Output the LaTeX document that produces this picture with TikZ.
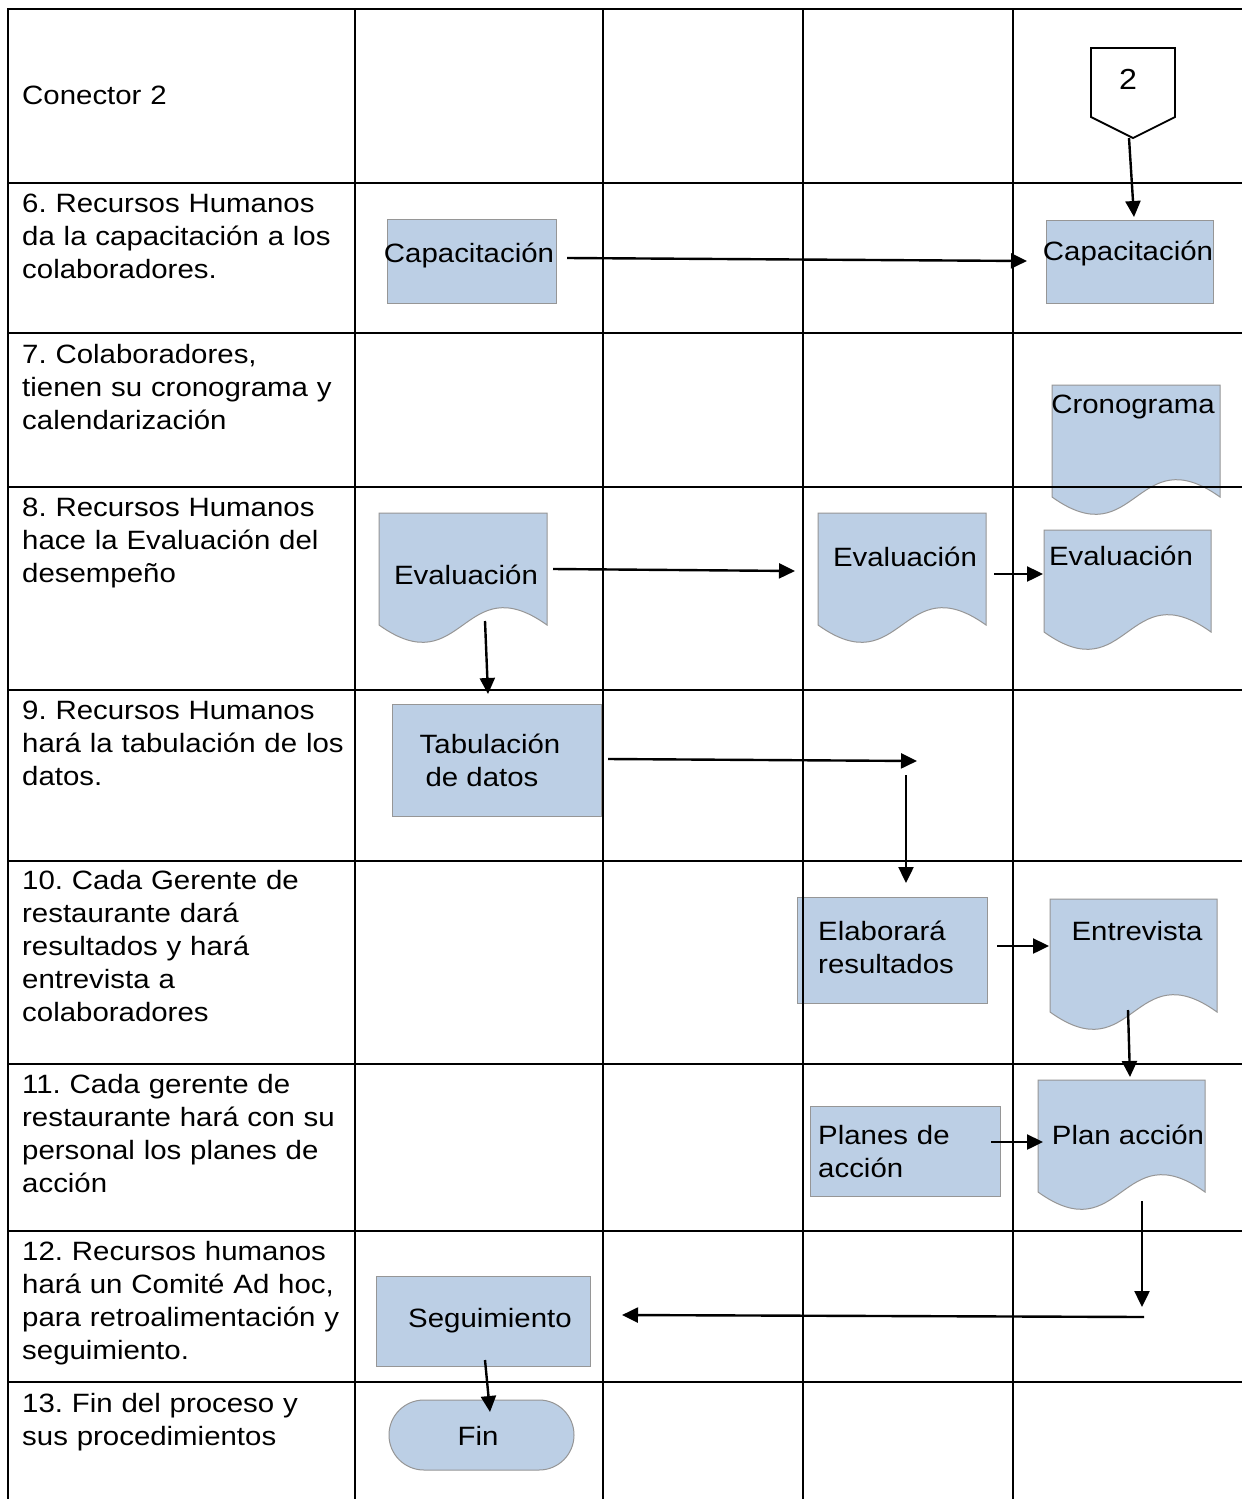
\documentclass[tikz,border=0pt]{standalone}
\usepackage{fontspec}
\setmainfont{Liberation Sans}[FakeStretch=1.11]
\usetikzlibrary{arrows.meta,calc}
\definecolor{boxblue}{RGB}{188,207,229}
\definecolor{boxgray}{RGB}{150,150,150}
\frenchspacing
\tikzset{
  tbl/.style={line width=2.8pt, line cap=rect, black},
  arr/.style={line width=2.4pt, black, -{Triangle[length=16pt,width=15pt]}},
  bx/.style={rectangle, draw=boxgray, line width=1pt, fill=boxblue, inner sep=0pt, outer sep=0pt},
  frame/.style={rectangle, draw=none, inner sep=0pt, outer sep=0pt},
  docstyle/.style={draw=boxgray, line width=1pt, fill=boxblue},
  lbl/.style={inner sep=0pt, anchor=base, font=\fontsize{26.5}{33}\selectfont},
  rowtxt/.style={inner sep=0pt, anchor=base west, align=left, text width=400pt, font=\fontsize{26.5}{33}\selectfont},
  boxtxt/.style={inner sep=0pt, anchor=base west, align=left, text width=200pt, font=\fontsize{26.5}{33}\selectfont}
}
\newcommand{\boxshape}[5]{%
  \node[bx, minimum width={#4-#2}, minimum height={#5-#3}] (#1) at ({(#2+#4)/2},{(#3+#5)/2}) {};}
\newcommand{\docshape}[5]{%
  \node[frame, minimum width={#4-#2}, minimum height={#5-#3}] (#1) at ({(#2+#4)/2},{(#3+#5)/2}) {};
  \path[docstyle] (#1.north west) -- (#1.north east) -- (#1.south east)
    .. controls ($(#1.south)+(0,-60)$) and ($(#1.south)+(0,60)$) .. (#1.south west) -- cycle;}
\begin{document}
\begin{tikzpicture}[x=1pt,y=-1pt]
\useasboundingbox[fill=white] (0,0) rectangle (1242,1499);

% ---------- shapes ----------
\node[frame, minimum width=84, minimum height=90] (con) at (1133,93) {};
\draw[line width=1.8pt, fill=white] (con.north west) -- (con.north east) -- ($(con.south east)+(0,-21)$) -- (con.south) -- ($(con.south west)+(0,-21)$) -- cycle;
\node[lbl, font=\fontsize{29}{33}\selectfont] (cont) at (1128,89) {2};

\boxshape{cap1}{387}{219}{556}{303}
\boxshape{cap2}{1046}{220}{1213}{303}
\docshape{cron}{1052}{385}{1220}{497}
\docshape{ev1}{379}{513}{547}{625}
\docshape{ev2}{818}{513}{986}{625}
\docshape{ev3}{1044}{530}{1211}{632}
\boxshape{tab}{392}{704}{601}{816}
\boxshape{ela}{797}{897}{987}{1003}
\docshape{ent}{1050}{899}{1217}{1012}
\boxshape{pla}{810}{1106}{1000}{1196}
\docshape{plan}{1038}{1080}{1205}{1192}
\boxshape{seg}{376}{1276}{590}{1366}
\node[bx, rounded corners=34.9pt, minimum width=185, minimum height=70] (fin) at (481.5,1435) {};

% ---------- shape texts ----------
\node[lbl] (cap1t) at (469,262) {Capacitación};
\node[lbl] (cap2t) at (1128,260) {Capacitación};
\node[lbl] (cront) at (1133,413) {Cronograma};
\node[lbl] (ev1t) at (466,584) {Evaluación};
\node[lbl] (ev2t) at (905,566) {Evaluación};
\node[lbl] (ev3t) at (1121,565) {Evaluación};
\node[lbl] (tabt1) at (490,753) {Tabulación};
\node[lbl] (tabt2) at (482,786) {de datos};
\node[boxtxt] (elat) at (818,940) {Elaborará\\resultados};
\node[lbl] (entt) at (1137,940) {Entrevista};
\node[boxtxt] (plat) at (818,1144) {Planes de\\acción};
\node[lbl] (plant) at (1128,1144) {Plan acción};
\node[lbl] (segt) at (490,1327) {Seguimiento};
\node[lbl] (fint) at (478,1445) {Fin};

% ---------- table ----------
\foreach \yy in {9,183,333,487,690,861,1064,1231,1382}
  \draw[tbl] (8,\yy) -- (1242,\yy);
\foreach \xx in {8,355,603,803,1013}
  \draw[tbl] (\xx,9) -- (\xx,1499);

% ---------- row texts ----------
\node[rowtxt] (r0) at (22,104) {Conector 2};
\node[rowtxt] (r6) at (22,212) {6. Recursos Humanos\\da la capacitación a los\\colaboradores.};
\node[rowtxt] (r7) at (22,363) {7. Colaboradores,\\tienen su cronograma y\\calendarización};
\node[rowtxt] (r8) at (22,516) {8. Recursos Humanos\\hace la Evaluación del\\desempeño};
\node[rowtxt] (r9) at (22,719) {9. Recursos Humanos\\hará la tabulación de los\\datos.};
\node[rowtxt] (r10) at (22,889) {10. Cada Gerente de\\restaurante dará\\resultados y hará\\entrevista a\\colaboradores};
\node[rowtxt] (r11) at (22,1093) {11. Cada gerente de\\restaurante hará con su\\personal los planes de\\acción};
\node[rowtxt] (r12) at (22,1260) {12. Recursos humanos\\hará un Comité Ad hoc,\\para retroalimentación y\\seguimiento.};
\node[rowtxt] (r13) at (22,1412) {13. Fin del proceso y\\sus procedimientos};

% ---------- connectors ----------
\coordinate (c1) at (917,761);
\coordinate (c2) at (906,775);
\coordinate (c3) at (1142,1307);
\coordinate (c4) at (1144,1317);
\draw[arr] ($(con.south)+(-4,0)$) -- ($(cap2.north)+(4.5,-3)$);
\draw[arr] ($(cap1.east)+(11,-3)$) -- ($(cap2.west)+(-19,-0.5)$);
\draw[arr] ($(ev1.east)+(6,0)$) -- ($(ev2.west)+(-23,2)$);
\draw[arr] ($(ev2.east)+(8,5)$) -- ($(ev3.west)+(-1,-7)$);
\draw[arr] ($(ev1.south)+(22,-4)$) -- ($(tab.north)+(-8.5,-10)$);
\draw[arr] ($(tab.east)+(7,-1)$) -- (c1);
\draw[arr] (c2) -- ($(ela.north)+(14,-14)$);
\draw[arr] ($(ela.east)+(10,-4)$) -- ($(ent.west)+(-1,-9.5)$);
\draw[arr] ($(ent.south)+(-5.5,-2)$) -- ($(plan.north)+(8.5,-3)$);
\draw[arr] ($(pla.east)+(-9,-9)$) -- ($(plan.west)+(5,6)$);
\draw[arr] ($(plan.south)+(20.5,9)$) -- (c3);
\draw[arr] (c4) -- ($(seg.east)+(32,-6)$);
\draw[arr] ($(seg.south)+(2,-6)$) -- ($(fin.north)+(8.5,12)$);
\end{tikzpicture}
\end{document}
